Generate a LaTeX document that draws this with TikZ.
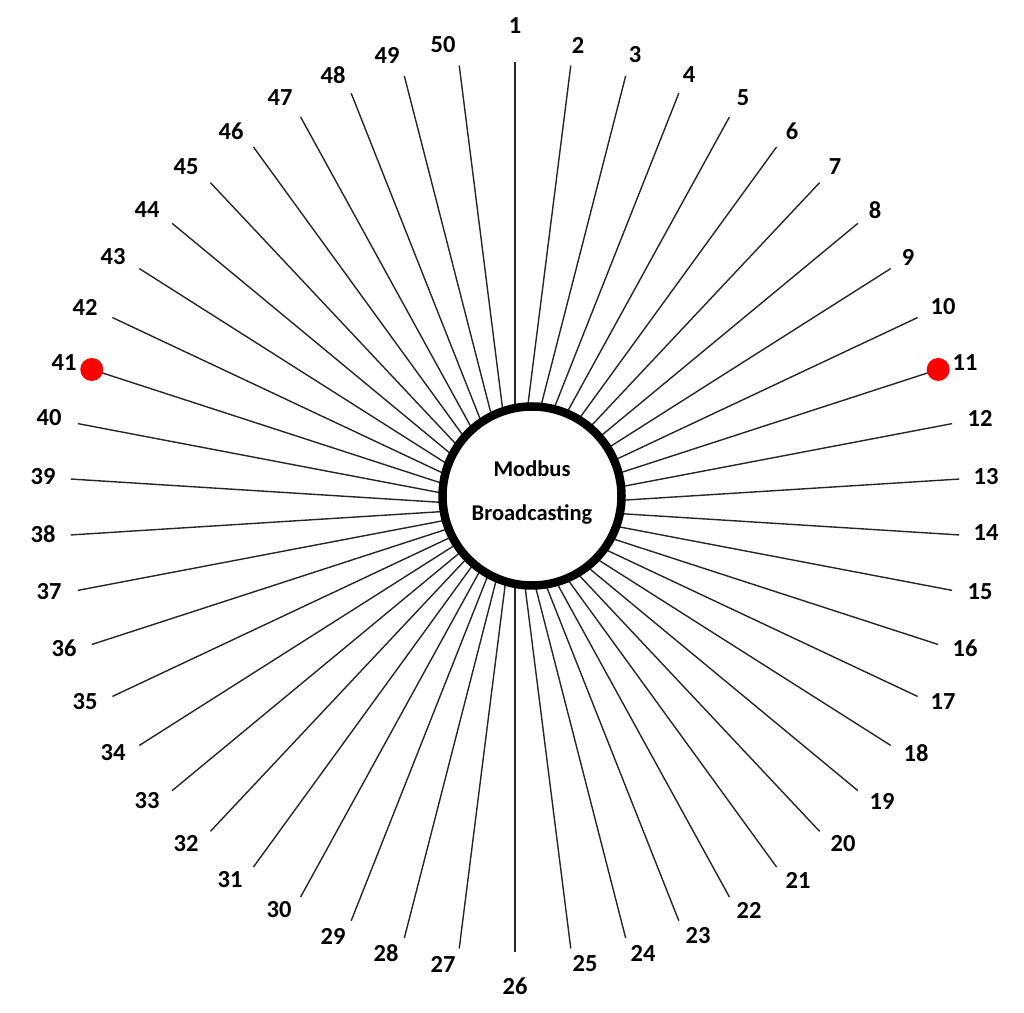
\documentclass[tikz,border=0pt]{standalone}
\usepackage{fontspec}
\setmainfont{Carlito}
\begin{document}
\begin{tikzpicture}[x=1pt,y=1pt,
  spoke/.style={line width=1.4pt, black!85},
  lbl/.style={font=\fontsize{24.5}{28}\selectfont\bfseries, inner sep=0pt},
  hub/.style={circle, draw=black, line width=8.5pt, fill=white, minimum size=179pt, inner sep=0pt},
  hubtext/.style={align=center, font=\fontsize{22.5}{44}\selectfont\bfseries, inner sep=0pt},
  reddot/.style={circle, fill=red, minimum size=23pt, inner sep=0pt}]
\useasboundingbox (0,0) rectangle (1024,1012);
\coordinate (O) at (515,505);
\foreach \k in {1,...,50}{
  \pgfmathsetmacro{\a}{90-7.2*(\k-1)}
  \coordinate (e\k) at ([shift={(\a:445)}]O);
  \draw[spoke] (O) -- (e\k);
}
\foreach \k/\px/\py in {1/515/26, 2/578/45, 3/635/55, 4/689/75, 5/743/98,
  6/792/131, 7/835/167, 8/875/210, 9/908/257, 10/943/307,
  11/965/363, 12/980/418, 13/986/477, 14/986/533, 15/980/592,
  16/965/648, 17/943/702, 18/916/753, 19/882/801, 20/843/844,
  21/798/880, 22/749/910, 23/698/936, 24/643/953, 25/585/964,
  26/515/986, 27/443/964, 28/386/953, 29/333/936, 30/279/910,
  31/230/880, 32/186/844, 33/147/801, 34/113/753, 35/85/702,
  36/64/648, 37/49/592, 38/43/534, 39/43/477, 40/49/418,
  41/64/363, 42/85/307, 43/113/257, 44/147/210, 45/186/167,
  46/231/131, 47/280/98, 48/333/75, 49/387/55, 50/443/45}{
  \node[lbl] (l\k) at (\px,{1012-\py}) {\k};
}
\node[hub] (hub) at (532,516) {};
\node[hubtext] (txt) at (532,519) {Modbus\\Broadcasting};
\node[reddot] (d11) at (e11) {};
\node[reddot] (d41) at (e41) {};
\end{tikzpicture}
\end{document}
